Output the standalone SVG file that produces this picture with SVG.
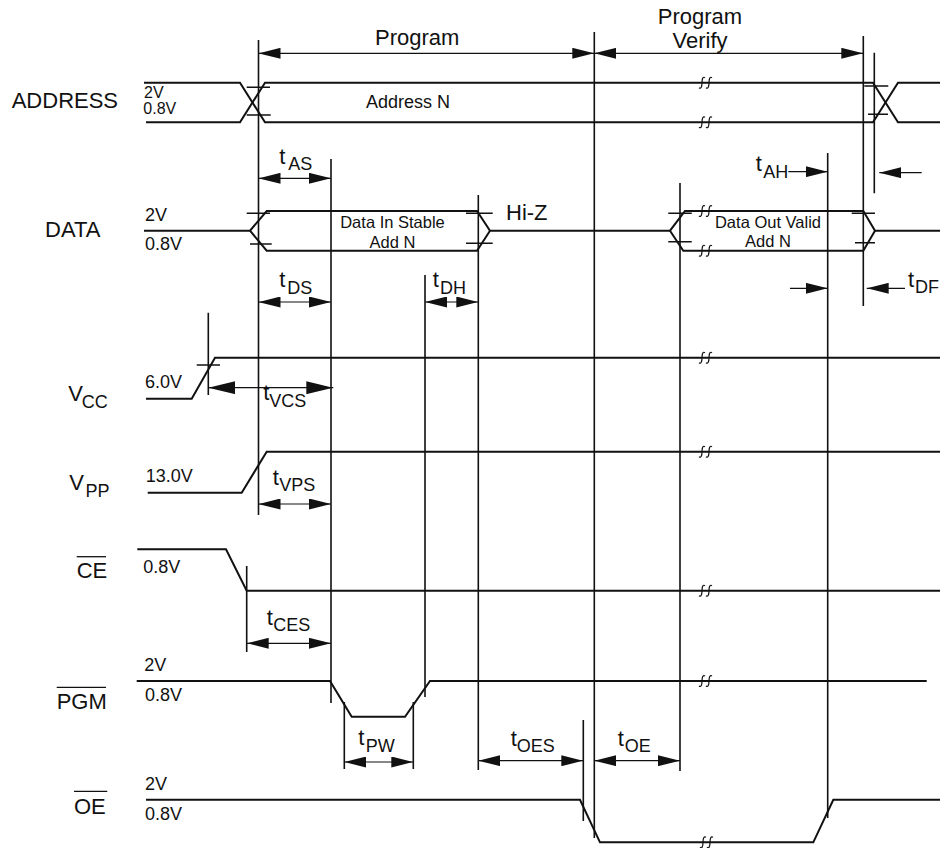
<svg xmlns="http://www.w3.org/2000/svg" width="940" height="848" viewBox="0 0 940 848">
<style>
text{font-family:"Liberation Sans",Arial,Helvetica,sans-serif;fill:#111}
.lbl{font-size:22px}
.lv{font-size:18px}
.lvs{font-size:16px}
.box{font-size:16.5px}
.sub{font-size:18px}
.wave{fill:none;stroke:#111;stroke-width:2}
.guide{stroke:#111;stroke-width:1.6;fill:none}
.tick{stroke:#111;stroke-width:1.5;fill:none}
.dim{stroke:#111;stroke-width:1.2;fill:none;marker-end:url(#ah)}
.dim2{stroke:#111;stroke-width:1.2;fill:none;marker-start:url(#ah);marker-end:url(#ah)}
.ovl{stroke:#111;stroke-width:1.3}
.brk{fill:none;stroke:#111;stroke-width:1.2}
</style>
<defs>
<marker id="ah" markerUnits="userSpaceOnUse" markerWidth="22" markerHeight="11" refX="22" refY="5.5" orient="auto-start-reverse" viewBox="0 0 22 11"><path d="M0,0 L22,5.5 L0,11 Z" fill="#111"/></marker>
<marker id="ahL" markerUnits="userSpaceOnUse" markerWidth="27" markerHeight="13" refX="27" refY="6.5" orient="auto-start-reverse" viewBox="0 0 27 13"><path d="M0,0 L27,6.5 L0,13 Z" fill="#111"/></marker>
<path id="brk" class="brk" d="M-6,5 C-4,6.5 -3,4 -3,0 C-3,-4 -2,-6.5 0,-5 M1,5 C3,6.5 4,4 4,0 C4,-4 5,-6.5 7,-5"/>
</defs>
<rect width="940" height="848" fill="#fff"/>

<g id="header">
<text class="lbl" x="375" y="45">Program</text>
<text class="lbl" x="700" y="24" text-anchor="middle">Program</text>
<text class="lbl" x="700" y="47.7" text-anchor="middle">Verify</text>
</g>

<g id="address">
<text class="lbl" x="11.7" y="108.3">ADDRESS</text>
<text class="lvs" x="144" y="98">2V</text>
<text class="lvs" x="143.3" y="114">0.8V</text>
<path class="wave" d="M144,82.7 H240 L265,122.3 H873 L898,82.7 H940"/>
<path class="wave" d="M146,122.3 H240 L265,82.7 H873 L898,122.3 H940"/>
<path class="tick" d="M246.7,87.3 H270 M246.7,115 H270.7 M864.3,86 H888.3 M868,114.3 H888"/>
<use href="#brk" x="705" y="82.7"/>
<use href="#brk" x="705" y="122.3"/>
<text x="408" y="108.3" text-anchor="middle" style="font-size:18px">Address N</text>
</g>

<g id="data">
<text class="lbl" x="45" y="237.3">DATA</text>
<text class="lv" x="145" y="220.7">2V</text>
<text class="lv" x="145" y="250">0.8V</text>
<path class="wave" d="M144,230.7 H250 L266.7,211 H477 L490,230.7 H670 L685,211 H863.3 L875,230.7 H940"/>
<path class="wave" d="M250,230.7 L266.7,250.7 H477 L490,230.7 M670,230.7 L683.3,250.7 H863.3 L875,230.7"/>
<path class="tick" d="M246.7,213.3 H270 M250,244 H271.7 M466,213.3 H492.7 M466,243.3 H492.7 M668.3,213.3 H691.7 M668.3,241.7 H691.7 M851.7,213.3 H875 M855,242.7 H875"/>
<use href="#brk" x="705" y="211"/>
<use href="#brk" x="705" y="250.7"/>
<text class="lbl" x="506" y="220">Hi-Z</text>
<text class="box" x="392.5" y="228.3" text-anchor="middle">Data In Stable</text>
<text class="box" x="392.5" y="247.7" text-anchor="middle">Add N</text>
<text class="box" x="768" y="228.3" text-anchor="middle">Data Out Valid</text>
<text class="box" x="768" y="246.7" text-anchor="middle">Add N</text>
</g>

<g id="vcc">
<text class="lbl" x="68.3" y="401">V<tspan class="sub" x="81.7" y="408">CC</tspan></text>
<text class="lv" x="145" y="388.3">6.0V</text>
<path class="wave" d="M146,398.7 H191.7 L215,357.7 H940"/>
<path class="tick" d="M196.7,365 H220"/>
<use href="#brk" x="705" y="357.7"/>
</g>

<g id="vpp">
<text class="lbl" x="69.3" y="490">V<tspan class="sub" x="85.5" y="497">PP</tspan></text>
<text class="lv" x="145.7" y="482.3">13.0V</text>
<path class="wave" d="M147.7,492.7 H241.7 L266.7,451.7 H940"/>
<use href="#brk" x="705" y="451.7"/>
</g>

<g id="ce">
<text class="lbl" x="76.7" y="578">CE</text>
<line class="ovl" x1="76.7" y1="556.7" x2="106" y2="556.7"/>
<text class="lv" x="143.3" y="572.7">0.8V</text>
<path class="wave" d="M137.3,549.3 H226 L246.7,590.7 H940"/>
<use href="#brk" x="705" y="590.7"/>
</g>

<g id="pgm">
<text class="lbl" x="56.7" y="709">PGM</text>
<line class="ovl" x1="56.7" y1="687.3" x2="106" y2="687.3"/>
<text class="lv" x="144.3" y="671">2V</text>
<text class="lv" x="145" y="700.7">0.8V</text>
<path class="wave" d="M136.7,681 H330 L351.7,716.7 H405 L430,681 H926.7"/>
<use href="#brk" x="705" y="681"/>
</g>

<g id="oe">
<text class="lbl" x="74" y="813.7">OE</text>
<line class="ovl" x1="74" y1="791.3" x2="107.3" y2="791.3"/>
<text class="lv" x="145" y="790.3">2V</text>
<text class="lv" x="145" y="819.7">0.8V</text>
<path class="wave" d="M146,799.7 H580 L600,842.3 H813.3 L833.3,799.7 H940"/>
<use href="#brk" x="706" y="842.3"/>
</g>

<g id="connectors">
<path class="guide" d="M258.5,40 V515 M331,159 V703 M425,275 V697 M478.3,195 V770 M594.3,32 V838 M583.3,720 V821 M680,183 V771 M827.7,153 V818 M863.3,36 V306 M874.3,52.7 V193.3 M246.7,566 V652 M208.3,312.7 V395 M344.3,702 V769 M413.3,702 V769"/>
<line class="dim2" x1="258.5" y1="53.3" x2="594.3" y2="53.3"/>
<line class="dim2" x1="594.3" y1="53.3" x2="863.3" y2="53.3"/>
<line class="dim2" x1="258.5" y1="178.3" x2="331" y2="178.3"/>
<line class="dim" x1="788.3" y1="171.7" x2="827.7" y2="171.7"/>
<line class="dim" x1="921.7" y1="172.7" x2="879.3" y2="172.7"/>
<line class="dim2" x1="258.5" y1="302" x2="331" y2="302"/>
<line class="dim2" x1="425" y1="302" x2="478.3" y2="302"/>
<line class="dim" x1="790" y1="288.3" x2="827.7" y2="288.3"/>
<line class="dim" x1="905" y1="288.3" x2="866.7" y2="288.3"/>
<line x1="208.3" y1="387.7" x2="333.3" y2="387.7" style="stroke:#111;stroke-width:1.2;marker-start:url(#ahL);marker-end:url(#ahL)"/>
<line class="dim2" x1="258.5" y1="504" x2="331" y2="504"/>
<line class="dim2" x1="246.7" y1="643.3" x2="331" y2="643.3"/>
<line class="dim2" x1="344.3" y1="762" x2="413.3" y2="762"/>
<line class="dim2" x1="478.3" y1="760.7" x2="583.3" y2="760.7"/>
<line class="dim2" x1="594.3" y1="760.7" x2="680" y2="760.7"/>
</g>

<g id="timing-labels">
<text class="lbl" x="279.3" y="164">t<tspan class="sub" x="288.3" y="170">AS</tspan></text>
<text class="lbl" x="755.7" y="170.7">t<tspan class="sub" x="763.3" y="178.3">AH</tspan></text>
<text class="lbl" x="279.3" y="286.7">t<tspan class="sub" x="287.3" y="294">DS</tspan></text>
<text class="lbl" x="432.7" y="286.7">t<tspan class="sub" x="440" y="294">DH</tspan></text>
<text class="lbl" x="908" y="286.7">t<tspan class="sub" x="915" y="293">DF</tspan></text>
<text class="lbl" x="263.3" y="400">t<tspan class="sub" x="269.3" y="406.7">VCS</tspan></text>
<text class="lbl" x="272.7" y="485">t<tspan class="sub" x="279.3" y="491">VPS</tspan></text>
<text class="lbl" x="266.7" y="625">t<tspan class="sub" x="273.3" y="631">CES</tspan></text>
<text class="lbl" x="358.3" y="745">t<tspan class="sub" x="365.7" y="752">PW</tspan></text>
<text class="lbl" x="510.7" y="746">t<tspan class="sub" x="516.7" y="752">OES</tspan></text>
<text class="lbl" x="617.7" y="746">t<tspan class="sub" x="624.7" y="752">OE</tspan></text>
</g>
</svg>
